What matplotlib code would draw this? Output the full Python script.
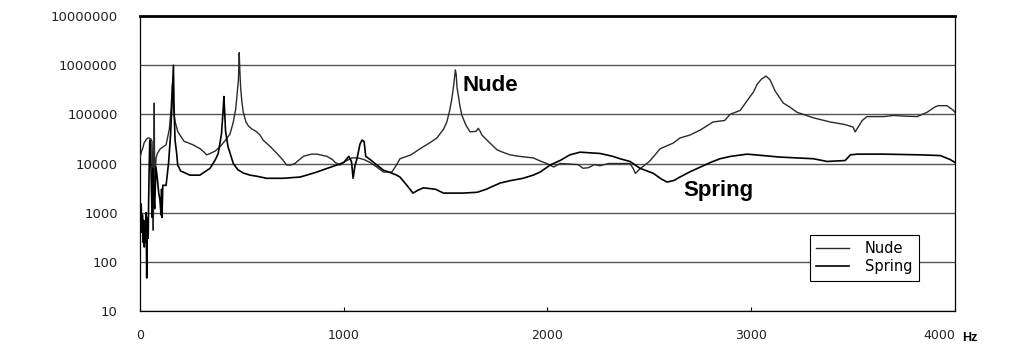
import matplotlib.pyplot as plt
from matplotlib.ticker import FixedLocator, NullLocator

# === DATOS: respuesta en frecuencia (Hz, amplitud) ===
nude_hz = [0, 8, 13, 20, 29, 38, 46, 55, 59, 62, 65, 67, 70, 72, 76, 79, 85, 100, 115,
           128, 144, 152, 159, 163, 168, 173, 185, 196, 217, 230, 260, 295, 315, 327, 345,
           370, 393, 420, 442, 458, 470, 478, 483, 487, 490, 494, 500, 507, 520, 532, 550,
           570, 589, 604, 640, 672, 700, 720, 740, 760, 802, 840, 868, 917, 945, 958, 982,
           1007, 1040, 1070, 1100, 1129, 1162, 1195, 1236, 1260, 1276, 1330, 1375, 1420,
           1457, 1490, 1506, 1520, 1530, 1540, 1548, 1552, 1556, 1562, 1570, 1580, 1600,
           1620, 1650, 1660, 1670, 1678, 1710, 1752, 1780, 1816, 1860, 1930, 1970, 1997,
           2030, 2062, 2100, 2150, 2175, 2200, 2230, 2258, 2300, 2350, 2405, 2420, 2432,
           2450, 2470, 2500, 2520, 2553, 2617, 2650, 2700, 2750, 2813, 2870, 2896, 2946,
           2980, 3010, 3028, 3050, 3073, 3093, 3117, 3157, 3190, 3225, 3305, 3387, 3460,
           3500, 3510, 3530, 3545, 3568, 3650, 3700, 3750, 3814, 3863, 3900, 3918, 3960,
           3993, 4000]
nude_val = [13000, 18000, 20000, 26000, 30000, 33000, 33000, 31000, 28000, 9000, 440, 2000,
            170000, 3000, 8000, 13000, 16000, 20000, 22000, 24000, 50000, 120000, 430000,
            200000, 90000, 70000, 45000, 38000, 28000, 27000, 24000, 20000, 17000, 15000,
            16000, 18000, 22000, 30000, 40000, 70000, 130000, 300000, 500000, 1800000,
            800000, 350000, 180000, 110000, 70000, 58000, 50000, 45000, 38000, 30000, 22000,
            16000, 12000, 9300, 9300, 10000, 14000, 15500, 15500, 14000, 12000, 10500, 9300,
            11000, 13000, 13000, 12000, 10500, 8500, 6700, 6700, 9500, 12500, 15000, 20000,
            26000, 33000, 50000, 70000, 120000, 200000, 400000, 800000, 650000, 350000,
            250000, 150000, 95000, 60000, 44000, 45000, 52000, 45000, 38000, 28000, 19000,
            17000, 15000, 14000, 13000, 11000, 10000, 8500, 10000, 9800, 9500, 8000, 8200,
            9500, 9000, 10000, 10000, 10000, 8000, 6300, 7500, 8800, 11000, 13700, 20000,
            26000, 33000, 38000, 48000, 70000, 75000, 100000, 120000, 190000, 280000, 400000,
            520000, 600000, 500000, 300000, 170000, 140000, 110000, 85000, 70000, 62000,
            55000, 44000, 60000, 75000, 90000, 90000, 95000, 92000, 90000, 110000, 140000,
            150000, 150000, 120000, 110000]

spring_hz = [0, 3, 6, 9, 12, 15, 18, 21, 24, 27, 30, 33, 36, 40, 44, 48, 52, 56, 60, 64,
             68, 72, 78, 85, 92, 98, 103, 106, 108, 112, 128, 140, 150, 158, 164, 167, 172,
             180, 185, 200, 212, 245, 294, 344, 370, 384, 395, 400, 408, 412, 416, 420, 432,
             458, 480, 507, 540, 574, 622, 700, 785, 830, 868, 920, 966, 1000, 1025, 1038,
             1046, 1055, 1065, 1080, 1090, 1100, 1108, 1130, 1160, 1195, 1230, 1260, 1276,
             1310, 1340, 1360, 1390, 1450, 1490, 1585, 1655, 1700, 1767, 1820, 1880, 1930,
             1964, 2013, 2062, 2110, 2160, 2210, 2258, 2320, 2356, 2405, 2454, 2520, 2560,
             2587, 2620, 2650, 2700, 2749, 2800, 2847, 2900, 2980, 3060, 3142, 3220, 3305,
             3373, 3461, 3487, 3520, 3650, 3830, 3928, 3977, 4000]
spring_val = [2000, 600, 1500, 400, 900, 250, 700, 200, 500, 250, 1000, 47, 800, 300, 5000,
              30000, 25000, 3000, 800, 8000, 2000, 1200, 8500, 5000, 2500, 1800, 900, 3000,
              800, 3600, 3600, 10000, 38000, 200000, 1000000, 150000, 30000, 16000, 9300,
              7000, 6700, 5800, 5800, 8000, 12000, 16000, 30000, 40000, 120000, 230000,
              100000, 45000, 22000, 10000, 7500, 6400, 5800, 5500, 5000, 5000, 5300, 6000,
              6700, 8000, 9300, 10500, 14000, 11000, 5000, 9000, 12500, 25000, 30000, 28000,
              14000, 12000, 9500, 7300, 6500, 5800, 5300, 3600, 2500, 2800, 3200, 3000, 2500,
              2500, 2600, 3000, 4000, 4500, 5000, 5800, 6700, 9300, 11500, 15000, 17000,
              16500, 16000, 14000, 12500, 11000, 8000, 6300, 4800, 4200, 4500, 5300, 6800,
              8400, 10500, 12500, 14000, 15500, 14500, 13500, 13000, 12500, 11000, 11500,
              15000, 15500, 15500, 15000, 14500, 12000, 10500]

y_ticks = [10, 100, 1000, 10000, 100000, 1000000, 10000000]
x_ticks = [0, 1000, 2000, 3000, 4000]

# === FIGURA ===
fig = plt.figure(figsize=(10.13, 3.44), dpi=100)
ax = fig.add_axes([0.1382, 0.0959, 0.8045, 0.8576])

ax.plot(nude_hz, nude_val, color='#2a2a2a', lw=1.0, label='Nude', zorder=3)
ax.plot(spring_hz, spring_val, color='black', lw=1.2, label='Spring', zorder=3)

ax.set_yscale('log')
ax.set_ylim(10, 10000000)
ax.set_xlim(0, 4000)

ax.yaxis.set_major_locator(FixedLocator(y_ticks))
ax.yaxis.set_minor_locator(NullLocator())
ax.set_yticklabels([str(v) for v in y_ticks])
ax.set_xticks(x_ticks)
ax.set_xticklabels([str(v) for v in x_ticks])

ax.yaxis.grid(True, color='#555555', lw=1)
ax.set_axisbelow(True)

ax.tick_params(axis='y', length=0, pad=16, labelsize=9.5, labelcolor='#222222')
ax.tick_params(axis='x', direction='in', length=3, width=0.8, pad=13,
               labelsize=9, labelcolor='#222222')
ax.get_xticklabels()[-1].set_horizontalalignment('right')

ax.spines['top'].set_linewidth(2)
for s in ['left', 'bottom', 'right']:
    ax.spines[s].set_linewidth(0.9)

# Etiquetas de las curvas
ax.text(1585, 302000, 'Nude', fontsize=16, fontweight='bold',
        family='Liberation Sans', va='baseline', ha='left')
ax.text(2665, 2190, 'Spring', fontsize=16, fontweight='bold',
        family='Liberation Sans', va='baseline', ha='left')
ax.text(1.009, -0.09, 'Hz', transform=ax.transAxes, fontsize=9, fontweight='bold',
        family='Liberation Sans', va='center', ha='left')

leg = ax.legend(loc='lower left', bbox_to_anchor=(0.822, 0.102), borderaxespad=0,
                fancybox=False, edgecolor='black', framealpha=1, fontsize=10.5,
                handlelength=2.2, borderpad=0.45, labelspacing=0.2, handletextpad=1.1)
leg.get_frame().set_linewidth(0.8)
leg.set_zorder(5)

fig.savefig('out.png', dpi=100)
